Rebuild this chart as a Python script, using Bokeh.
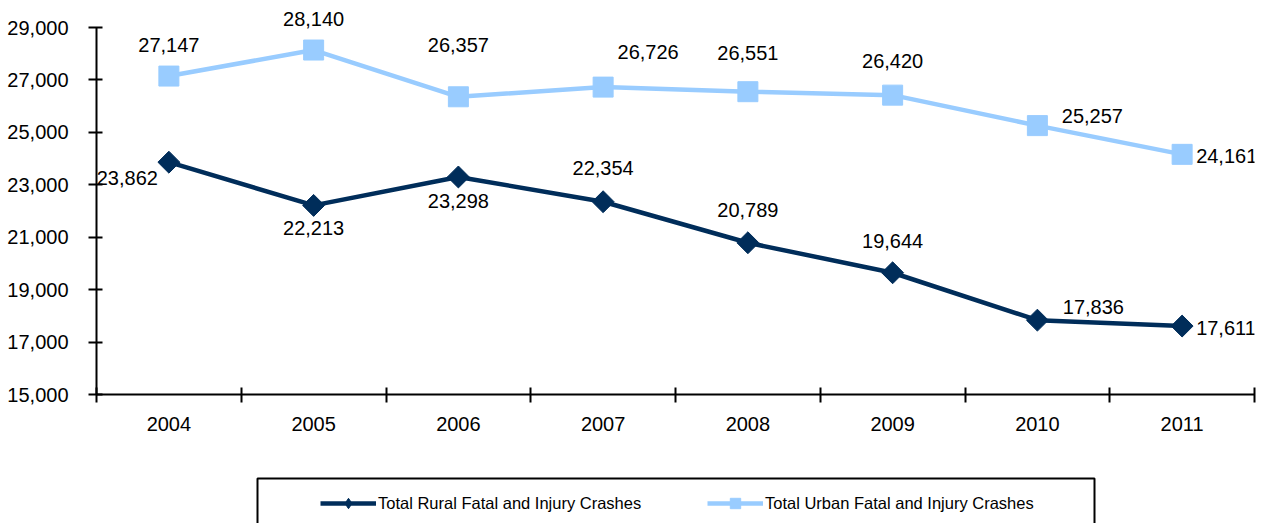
from bokeh.plotting import figure
from bokeh.models import Range1d, FixedTicker, Legend, LegendItem, ColumnDataSource
from bokeh.layouts import column
from bokeh.core.properties import value
from bokeh.embed import file_html
from bokeh.resources import INLINE

# ---- data ----
years = ["2004", "2005", "2006", "2007", "2008", "2009", "2010", "2011"]
rural = [23862, 22213, 23298, 22354, 20789, 19644, 17836, 17611]
urban = [27147, 28140, 26357, 26726, 26551, 26420, 25257, 24161]
y_ticks = [15000, 17000, 19000, 21000, 23000, 25000, 27000, 29000]
rural_name = "Total Rural Fatal and Injury Crashes"
urban_name = "Total Urban Fatal and Injury Crashes"

# ---- label placement (pixels, style only) ----
urban_dx = [0, 0, 0, 45, 0, 0, 55, 14]
urban_dy = [-31, -31, -52, -35, -39, -34, -10, 2]
urban_align = ["center"] * 7 + ["left"]
rural_dx = [-11, 0, 0, 0, 0, 0, 56, 14]
rural_dy = [16, 23, 24, -34, -33, -32, -13, 2]
rural_align = ["right"] + ["center"] * 6 + ["left"]

FONT = "Liberation Sans"
RURAL_C = "#002D5A"
URBAN_C = "#99CCFF"

xs = list(range(len(years)))

# frame: left 96, right 1254, top 0, bottom 394 ; 29,000 sits at 27 px
y_span = y_ticks[-1] - y_ticks[0]
y_top = y_ticks[-1] + 27 * y_span / 367.0

p = figure(width=1267, height=470, output_backend="svg", toolbar_location=None,
           x_range=Range1d(-0.5, len(years) - 0.5),
           y_range=Range1d(y_ticks[0], y_top),
           min_border_left=96, min_border_right=13, min_border_top=0, min_border_bottom=76)
p.outline_line_color = None
p.xgrid.visible = False
p.ygrid.visible = False
p.background_fill_color = "white"

src_u = ColumnDataSource(dict(x=xs, y=urban, t=[f"{v:,}" for v in urban],
                              dx=urban_dx, dy=urban_dy, al=urban_align))
src_r = ColumnDataSource(dict(x=xs, y=rural, t=[f"{v:,}" for v in rural],
                              dx=rural_dx, dy=rural_dy, al=rural_align))

p.line("x", "y", source=src_u, line_color=URBAN_C, line_width=4.5)
p.scatter("x", "y", source=src_u, marker="square", size=20,
          fill_color=URBAN_C, line_color=URBAN_C)
p.line("x", "y", source=src_r, line_color=RURAL_C, line_width=4.5)
p.scatter("x", "y", source=src_r, marker="square", size=15.5, angle=0.7853981634,
          fill_color=RURAL_C, line_color=RURAL_C)

for s in (src_u, src_r):
    p.text("x", "y", text="t", source=s, x_offset="dx", y_offset="dy",
           text_align="al", text_baseline="middle",
           text_font=value(FONT), text_font_size="20px", text_color="black")

# axes
xa = p.xaxis[0]
xa.ticker = FixedTicker(ticks=xs, minor_ticks=[i - 0.5 for i in range(len(years) + 1)])
xa.major_label_overrides = {i: y for i, y in enumerate(years)}
xa.major_tick_in = 0
xa.major_tick_out = 0
xa.minor_tick_in = 7
xa.minor_tick_out = 8
xa.minor_tick_line_width = 2
xa.minor_tick_line_color = "black"
xa.axis_line_width = 2
xa.axis_line_color = "black"
xa.major_label_standoff = 14
xa.major_label_text_font = FONT
xa.major_label_text_font_size = "20px"
xa.major_label_text_color = "black"

ya = p.yaxis[0]
ya.ticker = FixedTicker(ticks=y_ticks, minor_ticks=[])
ya.bounds = (y_ticks[0], y_ticks[-1])
ya.major_label_overrides = {t: f"{t:,}" for t in y_ticks}
ya.major_tick_in = 6
ya.major_tick_out = 8
ya.major_tick_line_width = 2
ya.major_tick_line_color = "black"
ya.minor_tick_line_color = None
ya.axis_line_width = 2
ya.axis_line_color = "black"
ya.major_label_standoff = 20
ya.major_label_text_font = FONT
ya.major_label_text_font_size = "20px"
ya.major_label_text_color = "black"

# ---- legend strip (page pixels 470..523; its frame is aligned to 96..1254) ----
q = figure(width=1267, height=53, output_backend="svg", toolbar_location=None,
           x_range=Range1d(96, 1254), y_range=Range1d(53, 0),
           x_axis_type=None, y_axis_type=None,
           min_border_left=96, min_border_right=13, min_border_top=0, min_border_bottom=0)
q.outline_line_color = None
q.xgrid.visible = False
q.ygrid.visible = False
q.quad(left=[257], right=[1094], top=[8], bottom=[70],
       fill_alpha=0, line_color="black", line_width=2)

nan = float("nan")
lr = q.line([nan], [nan], line_color=RURAL_C, line_width=4.5)
mr = q.scatter([nan], [nan], marker="diamond", size=10,
               fill_color=RURAL_C, line_color=RURAL_C)
lu = q.line([nan], [nan], line_color=URBAN_C, line_width=4.5)
mu = q.scatter([nan], [nan], marker="square", size=10,
               fill_color=URBAN_C, line_color=URBAN_C)

legend = Legend(items=[LegendItem(label=rural_name, renderers=[lr, mr]),
                       LegendItem(label=urban_name, renderers=[lu, mu])],
                orientation="horizontal", location=(224, 7),
                padding=0, spacing=19, glyph_width=56, glyph_height=26,
                label_standoff=2, label_width=310, label_height=26,
                label_text_font=FONT, label_text_font_size="16.5px",
                label_text_color="black", label_text_baseline="middle",
                border_line_alpha=0, background_fill_alpha=0)
q.add_layout(legend)

layout = column(p, q, spacing=0)
open("out.html", "w").write(file_html(layout, INLINE))
